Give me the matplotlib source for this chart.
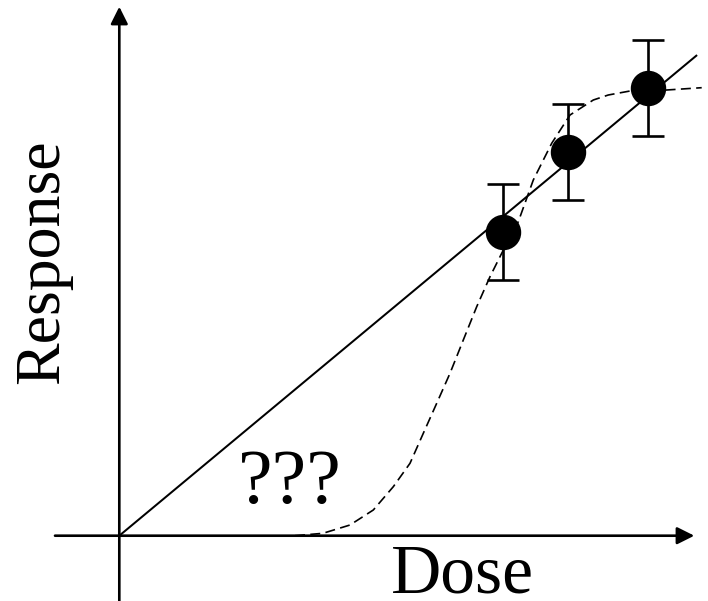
import matplotlib
matplotlib.use("Agg")
import matplotlib.pyplot as plt

# measured points with error bars
dose = [3.84, 4.484, 5.284]
response = [3.04, 3.84, 4.48]
err = [0.48, 0.48, 0.48]

# straight line through origin
line_dose = [0, 5.77]
line_resp = [0, 4.80]

# dashed sigmoid-like curve
curve_dose = [1.757, 2.037, 2.307, 2.540, 2.740, 2.907, 3.040, 3.174, 3.307,
              3.440, 3.574, 3.707, 3.824, 3.990, 4.140, 4.324, 4.507, 4.740,
              4.890, 5.107, 5.474, 5.824]
curve_resp = [0.0, 0.024, 0.107, 0.257, 0.490, 0.724, 1.024, 1.324, 1.624,
              1.957, 2.290, 2.590, 2.824, 3.140, 3.557, 3.924, 4.207, 4.357,
              4.407, 4.447, 4.457, 4.480]

plt.rcParams["font.family"] = ["Liberation Serif", "DejaVu Serif"]

fig = plt.figure(figsize=(7.08, 6.01), dpi=100)
ax = fig.add_axes([0, 0, 1, 1])
ax.set_xlim(-1.193, 5.887)
ax.set_ylim(-0.653, 5.357)
ax.axis("off")

# axes with arrows
ax.annotate("", xy=(5.75, 0), xytext=(-0.643, 0),
            arrowprops=dict(arrowstyle="-|>", lw=1.9, color="black",
                            mutation_scale=26, shrinkA=0, shrinkB=0))
ax.annotate("", xy=(0, 5.29), xytext=(0, -0.66),
            arrowprops=dict(arrowstyle="-|>", lw=1.9, color="black",
                            mutation_scale=26, shrinkA=0, shrinkB=0))

ax.plot(line_dose, line_resp, color="black", lw=1.45)
ax.plot(curve_dose, curve_resp, color="black", lw=1.2, ls=(0, (6, 3.2)))
ax.errorbar(dose, response, yerr=err, fmt="o", color="black", ms=24.5,
            elinewidth=1.9, capsize=11.8, capthick=1.9, zorder=5)

ax.text(-0.763, 2.742, "Response", rotation=90, fontsize=46,
        ha="center", va="center")
ax.text(3.432, -0.565, "Dose", fontsize=50, ha="center", va="baseline")
ax.text(1.71, 0.33, "???", fontsize=56, ha="center", va="baseline")

fig.savefig("out.png", dpi=100)
